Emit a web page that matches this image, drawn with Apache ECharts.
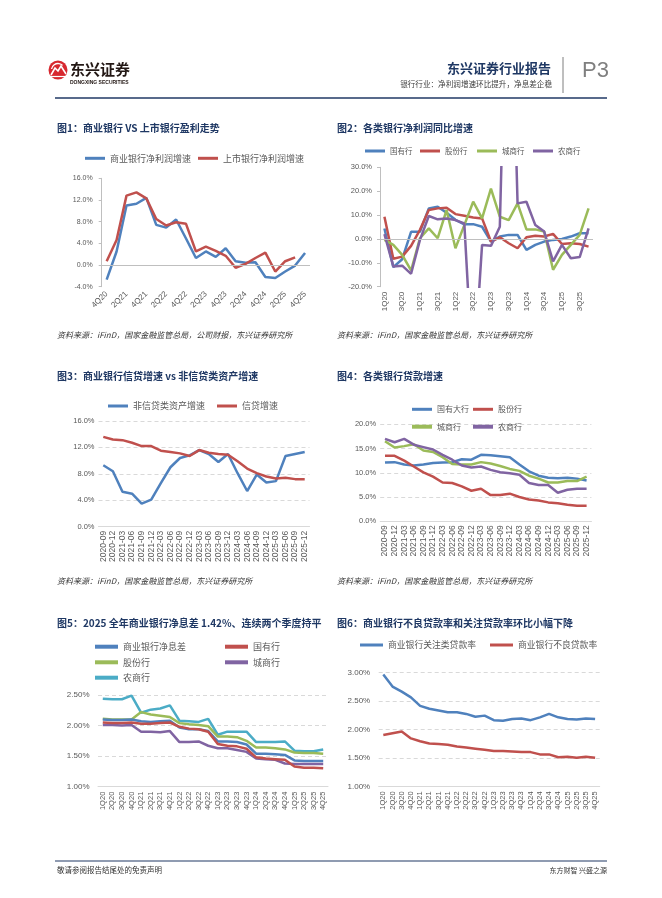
<!DOCTYPE html>
<html><head><meta charset="utf-8">
<script src="https://cdn.jsdelivr.net/npm/echarts@6/dist/echarts.min.js"></script>
<style>html,body{margin:0;padding:0;background:#fff}#c{width:662px;height:898px}</style>
</head><body><div id="c"></div><script>
// ---------- data ----------
const quarters21 = ['4Q20','1Q21','2Q21','3Q21','4Q21','1Q22','2Q22','3Q22','4Q22','1Q23','2Q23','3Q23','4Q23','1Q24','2Q24','3Q24','4Q24','1Q25','2Q25','3Q25','4Q25'];
const quarters24 = ['1Q20','2Q20','3Q20','4Q20','1Q21','2Q21','3Q21','4Q21','1Q22','2Q22','3Q22','4Q22','1Q23','2Q23','3Q23','4Q23','1Q24','2Q24','3Q24','4Q24','1Q25','2Q25','3Q25','4Q25'];
const months22 = ['2020-09','2020-12','2021-03','2021-06','2021-09','2021-12','2022-03','2022-06','2022-09','2022-12','2023-03','2023-06','2023-09','2023-12','2024-03','2024-06','2024-09','2024-12','2025-03','2025-06','2025-09','2025-12'];

// 图1
const c1Commercial = [-2.7, 2.5, 11.0, 11.3, 12.4, 7.4, 6.9, 8.4, 4.9, 1.3, 2.5, 1.5, 3.1, 0.7, 0.4, 0.5, -2.2, -2.4, -1.2, -0.1, 2.2];
const c1Listed = [0.7, 4.6, 12.8, 13.4, 12.3, 8.5, 7.3, 7.9, 7.6, 2.5, 3.4, 2.6, 1.7, -0.5, 0.2, 1.3, 2.3, -1.2, 0.7, 1.4];
// 图2
const c2State = [4.4, -11.8, -8.5, 3.0, 3.0, 12.8, 13.5, 11.0, 8.0, 6.1, 6.2, 5.1, -1.1, 1.0, 1.7, 1.7, -4.6, -2.5, -1.1, -0.4, 0.0, 1.0, 2.4, 2.4];
const c2Joint = [9.3, -8.3, -7.4, -2.9, 3.8, 12.1, 12.8, 13.1, 10.4, 9.7, 9.0, 8.6, -1.1, 0.7, -1.8, -3.9, 0.7, 1.3, 1.0, 2.1, -2.1, -1.8, -2.1, -3.2];
const c2City = [-0.4, -2.5, -6.7, -13.2, 0.3, 4.4, 0.3, 12.1, -3.9, 5.8, 15.6, 8.6, 21.1, 9.3, 7.9, 14.9, 4.0, 4.0, 3.1, -12.9, -6.7, -2.5, 1.7, 12.8];
const c2Rural = [2.0, -11.5, -11.2, -14.6, -0.4, 9.6, 8.2, 8.6, 7.9, 6.5, -60, -2.5, -2.9, 5.1, 150, 14.9, 15.6, 5.8, 3.1, -9.4, -2.5, -8.1, -7.6, 4.4];
// 图3
const c3NonCredit = [9.3, 8.4, 5.3, 5.0, 3.5, 4.1, 6.6, 9.0, 10.4, 10.8, 11.6, 11.0, 9.8, 11.0, 8.1, 5.4, 7.9, 6.7, 6.9, 10.7, 11.0, 11.3];
const c3Credit = [13.6, 13.2, 13.1, 12.7, 12.2, 12.2, 11.5, 11.3, 11.1, 10.7, 11.6, 11.2, 11.0, 10.9, 9.9, 8.8, 8.1, 7.6, 7.3, 7.4, 7.2, 7.2];
// 图4
const c4State = [12.1, 12.2, 11.7, 11.5, 11.7, 12.0, 12.1, 12.2, 12.8, 12.7, 13.7, 13.6, 13.4, 13.2, 11.7, 10.3, 9.4, 9.0, 8.9, 9.0, 8.8, 8.4];
const c4Joint = [13.5, 13.5, 12.5, 11.3, 10.1, 9.2, 8.0, 7.9, 7.2, 6.3, 6.7, 5.4, 5.4, 5.7, 5.0, 4.5, 4.3, 3.9, 3.7, 3.4, 3.2, 3.2];
const c4City = [16.5, 15.2, 15.5, 15.9, 14.6, 14.3, 13.2, 11.8, 11.7, 11.7, 12.2, 11.9, 11.4, 10.8, 10.4, 9.4, 8.8, 8.0, 8.0, 8.3, 8.3, 9.2];
const c4Rural = [17.0, 16.3, 17.0, 15.8, 15.3, 14.8, 13.7, 12.7, 11.5, 11.1, 11.3, 10.6, 10.1, 9.9, 9.6, 7.9, 7.5, 7.5, 5.9, 6.5, 6.7, 6.7];
// 图5
const c5All = [2.10, 2.09, 2.09, 2.10, 2.07, 2.06, 2.07, 2.08, 1.97, 1.94, 1.94, 1.91, 1.74, 1.74, 1.73, 1.69, 1.54, 1.54, 1.53, 1.52, 1.43, 1.42, 1.42, 1.42];
const c5State = [2.05, 2.04, 2.04, 2.05, 2.03, 2.03, 2.04, 2.05, 1.98, 1.95, 1.94, 1.90, 1.70, 1.67, 1.66, 1.62, 1.48, 1.46, 1.45, 1.44, 1.33, 1.31, 1.31, 1.30];
const c5Joint = [2.11, 2.10, 2.10, 2.10, 2.22, 2.18, 2.16, 2.14, 2.04, 2.02, 2.01, 1.99, 1.82, 1.82, 1.81, 1.75, 1.64, 1.64, 1.63, 1.61, 1.56, 1.55, 1.55, 1.54];
const c5City = [2.01, 2.01, 2.00, 2.01, 1.90, 1.90, 1.89, 1.91, 1.73, 1.73, 1.74, 1.67, 1.63, 1.63, 1.60, 1.57, 1.46, 1.45, 1.44, 1.38, 1.37, 1.37, 1.37, 1.37];
const c5Rural = [2.44, 2.43, 2.43, 2.49, 2.21, 2.26, 2.28, 2.33, 2.08, 2.07, 2.06, 2.11, 1.85, 1.90, 1.90, 1.90, 1.73, 1.73, 1.73, 1.74, 1.59, 1.58, 1.58, 1.61];
// 图6
const c6Special = [2.96, 2.75, 2.66, 2.56, 2.41, 2.36, 2.33, 2.30, 2.30, 2.27, 2.22, 2.24, 2.16, 2.15, 2.18, 2.19, 2.16, 2.21, 2.27, 2.21, 2.18, 2.17, 2.19, 2.18];
const c6NPL = [1.90, 1.93, 1.96, 1.84, 1.79, 1.75, 1.74, 1.73, 1.70, 1.68, 1.66, 1.64, 1.62, 1.62, 1.61, 1.60, 1.60, 1.56, 1.56, 1.51, 1.52, 1.50, 1.52, 1.50];

// ---------- styles ----------
const CJK = '"Noto Sans CJK SC", sans-serif';
const LAT = '"Liberation Sans", Arial, sans-serif';
const COL = {blue:'#4F81BD', red:'#C0504D', green:'#9BBB59', purple:'#8064A2', cyan:'#4BACC6'};
const TXT = '#595959';
const NAVY = '#1F3864';

const grids = [
  {left:101.7, top:178.3, width:208.3, height:108.4},
  {left:380, top:167.3, width:213, height:119.4},
  {left:98.5, top:421, width:211, height:105.7},
  {left:380.2, top:424.3, width:211.2, height:97},
  {left:98, top:695, width:230, height:91.7},
  {left:378.7, top:672.3, width:221, height:114}
];

function xAx(i, data, o) {
  return {type:'category', gridIndex:i, data, boundaryGap:true,
    axisLine:{show:o.line, onZero:false, lineStyle:{color:'#d9d9d9', width:1}},
    axisTick:{show:false},
    axisLabel:{interval:o.interval, rotate:o.rotate, fontSize:o.fs, color:TXT, fontFamily:LAT, margin:o.margin}};
}
function yAx(i, min, max, step, dec, o) {
  return {type:'value', gridIndex:i, min, max, interval:step,
    axisLine:{show:o.line, lineStyle:{color:'#bfbfbf'}},
    axisTick:{show:o.line, length:3, lineStyle:{color:'#bfbfbf'}},
    splitLine:{show:o.split, lineStyle:{color:'#d9d9d9', type:[4,3], width:1}},
    axisLabel:{formatter:v=>v.toFixed(dec)+'%', fontSize:o.fs, color:TXT, fontFamily:LAT, margin:o.margin}};
}
function ser(name, i, data, color, w) {
  return {type:'line', name, xAxisIndex:i, yAxisIndex:i, data, symbol:'none', smooth:false,
    lineStyle:{width:w||2.5, color}, itemStyle:{color}, emphasis:{disabled:true}};
}
const zeroLine = {silent:true, symbol:'none', label:{show:false},
  lineStyle:{color:'#bfbfbf', type:'solid', width:1}, data:[{yAxis:0}]};

function lg(name, x, cy, fs, iw, ih) {
  const lh = fs + 2;
  return {left:x, top:cy - lh/2, padding:0, itemWidth:iw, itemHeight:ih, icon:'rect',
    selectedMode:false, data:[name], formatter:n=>n.split('|')[1],
    textStyle:{fontSize:fs, color:TXT, fontFamily:CJK, lineHeight:lh}};
}

const legends = [
  lg('1|商业银行净利润增速', 85, 158.3, 9, 20, 3),
  lg('1|上市银行净利润增速', 198, 158.3, 9, 20, 3),
  lg('2|国有行', 365, 151, 7.5, 20, 3),
  lg('2|股份行', 420, 151, 7.5, 20, 3),
  lg('2|城商行', 477, 151, 7.5, 20, 3),
  lg('2|农商行', 533, 151, 7.5, 20, 3),
  lg('3|非信贷类资产增速', 108, 406, 9, 20, 3),
  lg('3|信贷增速', 217, 406, 9, 20, 3),
  lg('4|国有大行', 412, 409.3, 8, 20, 3),
  lg('4|股份行', 473, 409.3, 8, 20, 3),
  lg('4|城商行', 412, 426.7, 8, 20, 4),
  lg('4|农商行', 473, 426.7, 8, 20, 4),
  lg('5|商业银行净息差', 95, 646.7, 9, 23, 4),
  lg('5|国有行', 225, 646.7, 9, 23, 4),
  lg('5|股份行', 95, 662.3, 9, 23, 4),
  lg('5|城商行', 225, 662.3, 9, 23, 4),
  lg('5|农商行', 95, 677.7, 9, 23, 4),
  lg('6|商业银行关注类贷款率', 360, 645, 8.8, 23, 3),
  lg('6|商业银行不良贷款率', 490, 645, 8.8, 23, 3)
];

const s1a = ser('1|商业银行净利润增速', 0, c1Commercial, COL.blue);
s1a.markLine = zeroLine;
const s2a = ser('2|国有行', 1, c2State, COL.blue);
s2a.markLine = zeroLine;

const series = [
  s1a, ser('1|上市银行净利润增速', 0, c1Listed, COL.red),
  s2a, ser('2|股份行', 1, c2Joint, COL.red), ser('2|城商行', 1, c2City, COL.green), ser('2|农商行', 1, c2Rural, COL.purple),
  ser('3|非信贷类资产增速', 2, c3NonCredit, COL.blue), ser('3|信贷增速', 2, c3Credit, COL.red),
  ser('4|国有大行', 3, c4State, COL.blue), ser('4|股份行', 3, c4Joint, COL.red), ser('4|城商行', 3, c4City, COL.green), ser('4|农商行', 3, c4Rural, COL.purple),
  ser('5|农商行', 4, c5Rural, COL.cyan), ser('5|股份行', 4, c5Joint, COL.green), ser('5|商业银行净息差', 4, c5All, COL.blue),
  ser('5|城商行', 4, c5City, COL.purple), ser('5|国有行', 4, c5State, COL.red),
  ser('6|商业银行关注类贷款率', 5, c6Special, COL.blue), ser('6|商业银行不良贷款率', 5, c6NPL, COL.red)
];

// ---------- page texts ----------
function T(x, y, text, font, fill, align) {
  return {type:'text', x, y, silent:true, style:{text, font, fill, align:align||'left', verticalAlign:'middle'}};
}
const titleFont = 'bold 10px ' + CJK;
const srcFont = 'italic 8px ' + CJK;
const graphics = [
  // logo
  {type:'circle', shape:{cx:58, cy:70, r:9.5}, style:{fill:'#D7282F'}},
  {type:'polyline', shape:{points:[[51,75],[55,68],[58,71],[61,66],[66,74]]}, style:{stroke:'#fff', lineWidth:1.6, fill:null}},
  {type:'line', shape:{x1:50, y1:76.5, x2:66, y2:76.5}, style:{stroke:'#fff', lineWidth:1.2}},
  {type:'arc', shape:{cx:58, cy:70, r:6.5, startAngle:Math.PI*1.05, endAngle:Math.PI*1.75}, style:{stroke:'#fff', lineWidth:1.3, fill:null}},
  T(70, 69.5, '东兴证券', 'bold 15px ' + CJK, '#231815'),
  T(70, 83, 'DONGXING SECURITIES', 'bold 5px ' + LAT, '#231815'),
  // right header
  T(551, 68, '东兴证券行业报告', 'bold 13px ' + CJK, NAVY, 'right'),
  T(552, 84, '银行行业：净利润增速环比提升，净息差企稳', '7.6px ' + CJK, '#404040', 'right'),
  {type:'line', shape:{x1:563, y1:57, x2:563, y2:93}, style:{stroke:'#7f7f7f', lineWidth:1}},
  T(582, 71, 'P3', '22px "Liberation Sans Narrow", ' + LAT, '#7f7f7f'),
  {type:'line', shape:{x1:55, y1:98, x2:607, y2:98}, style:{stroke:'#203864', lineWidth:1.5}},
  // titles
  T(57, 128.3, '图1：商业银行 VS 上市银行盈利走势', titleFont, NAVY),
  T(337, 128.3, '图2：各类银行净利润同比增速', titleFont, NAVY),
  T(57, 376, '图3：商业银行信贷增速 vs 非信贷类资产增速', titleFont, NAVY),
  T(337, 376, '图4：各类银行贷款增速', titleFont, NAVY),
  T(57, 623, '图5：2025 全年商业银行净息差 1.42%、连续两个季度持平', titleFont, NAVY),
  T(337, 623, '图6：商业银行不良贷款率和关注贷款率环比小幅下降', titleFont, NAVY),
  // sources
  T(57, 335, '资料来源：iFinD，国家金融监管总局，公司财报，东兴证券研究所', srcFont, '#333'),
  T(337, 335, '资料来源：iFinD，国家金融监管总局，东兴证券研究所', srcFont, '#333'),
  T(57, 580.7, '资料来源：iFinD，国家金融监管总局，东兴证券研究所', srcFont, '#333'),
  T(337, 580.7, '资料来源：iFinD，国家金融监管总局，东兴证券研究所', srcFont, '#333'),
  // footer
  {type:'line', shape:{x1:55, y1:861, x2:607, y2:861}, style:{stroke:'#203864', lineWidth:1.2}},
  T(57, 870, '敬请参阅报告结尾处的免责声明', '7.5px ' + CJK, '#333'),
  T(607, 870, '东方财智 兴盛之源', '7px ' + CJK, '#333', 'right')
];

const option = {
  animation:false,
  backgroundColor:'#ffffff',
  grid:grids,
  legend:legends,
  xAxis:[
    xAx(0, quarters21, {line:false, interval:1, rotate:45, fs:8, margin:6}),
    xAx(1, quarters24, {line:false, interval:1, rotate:90, fs:8, margin:5}),
    xAx(2, months22, {line:true, interval:0, rotate:90, fs:8.5, margin:4}),
    xAx(3, months22, {line:true, interval:0, rotate:90, fs:8.5, margin:4}),
    xAx(4, quarters24, {line:true, interval:0, rotate:90, fs:7.5, margin:5}),
    xAx(5, quarters24, {line:true, interval:0, rotate:90, fs:7.5, margin:5})
  ],
  yAxis:[
    yAx(0, -4, 16, 4, 1, {line:true, split:false, fs:7, margin:9}),
    yAx(1, -20, 30, 10, 1, {line:true, split:false, fs:7.5, margin:8}),
    yAx(2, 0, 16, 4, 1, {line:false, split:true, fs:7.5, margin:4}),
    yAx(3, 0, 20, 5, 1, {line:false, split:true, fs:7.5, margin:4}),
    yAx(4, 1, 2.5, 0.5, 2, {line:false, split:true, fs:8, margin:8.5}),
    yAx(5, 1, 3, 0.5, 2, {line:false, split:true, fs:8, margin:8.5})
  ],
  series,
  graphic:graphics
};
const chart = echarts.init(document.getElementById('c'), null, {width:662, height:898});
chart.setOption(option);
</script></body></html>
